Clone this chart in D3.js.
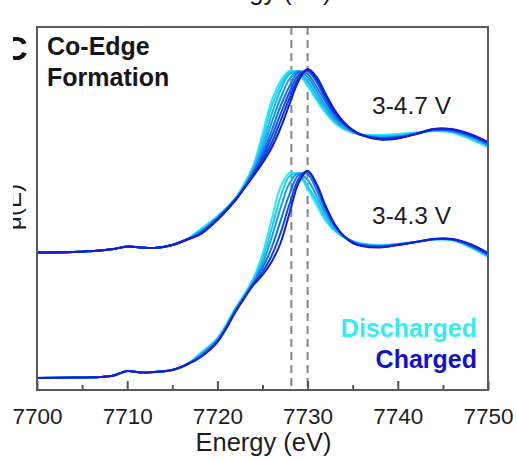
<!DOCTYPE html>
<html>
<head>
<meta charset="utf-8">
<script src="https://cdn.jsdelivr.net/npm/d3@7"></script>
<style>
  html, body { margin: 0; padding: 0; background: #fff; }
  svg { display: block; font-family: "Liberation Sans", Arial, sans-serif; }
</style>
</head>
<body>
<svg id="chart" width="516" height="460"></svg>
<script>
// ---------- data ----------
const energyPre = [7700, 7704, 7707, 7708.5, 7710, 7711.5, 7713, 7715, 7716.5];
const energyEdge = [7718, 7720, 7722, 7723, 7724, 7725, 7726, 7727, 7728, 7729, 7730, 7731,
                    7732, 7733, 7734, 7735, 7736, 7738, 7740, 7742, 7744, 7746, 7748, 7750];

// stacked μ(E) (offset, a.u.) — 3-4.7 V cycling (top)
const topPre = [1.375, 1.38, 1.395, 1.41, 1.435, 1.425, 1.42, 1.45, 1.50];
const top0 = [1.60, 1.74, 1.92, 2.07, 2.25, 2.56, 2.89, 3.09, 3.19, 3.16, 3.04, 2.90, 2.77, 2.67, 2.61, 2.575, 2.555, 2.55, 2.56, 2.575, 2.59, 2.575, 2.51, 2.43];
const top1 = [1.59, 1.73, 1.915, 2.045, 2.23, 2.51, 2.83, 3.05, 3.18, 3.17, 3.06, 2.92, 2.785, 2.68, 2.615, 2.575, 2.55, 2.54, 2.55, 2.57, 2.59, 2.58, 2.52, 2.44];
const top2 = [1.58, 1.725, 1.91, 2.04, 2.21, 2.45, 2.75, 3.00, 3.16, 3.18, 3.09, 2.95, 2.81, 2.695, 2.625, 2.58, 2.55, 2.535, 2.54, 2.565, 2.595, 2.585, 2.53, 2.45];
const top3 = [1.575, 1.72, 1.91, 2.035, 2.20, 2.40, 2.67, 2.92, 3.11, 3.19, 3.13, 2.99, 2.84, 2.715, 2.64, 2.585, 2.55, 2.525, 2.535, 2.565, 2.60, 2.59, 2.535, 2.455];
const top4 = [1.57, 1.715, 1.905, 2.03, 2.18, 2.36, 2.59, 2.84, 3.04, 3.18, 3.16, 3.03, 2.88, 2.74, 2.655, 2.59, 2.55, 2.52, 2.53, 2.56, 2.60, 2.595, 2.54, 2.46];
const top5 = [1.56, 1.71, 1.90, 2.025, 2.165, 2.33, 2.53, 2.76, 2.98, 3.15, 3.19, 3.08, 2.91, 2.76, 2.665, 2.595, 2.55, 2.515, 2.525, 2.56, 2.605, 2.60, 2.55, 2.47];
const top6 = [1.555, 1.705, 1.90, 2.02, 2.15, 2.30, 2.47, 2.69, 2.92, 3.12, 3.205, 3.11, 2.94, 2.78, 2.67, 2.60, 2.55, 2.51, 2.52, 2.56, 2.61, 2.605, 2.555, 2.475];
const top7 = [1.55, 1.70, 1.90, 2.02, 2.14, 2.27, 2.42, 2.62, 2.86, 3.09, 3.21, 3.13, 2.96, 2.80, 2.68, 2.60, 2.55, 2.505, 2.515, 2.56, 2.61, 2.61, 2.56, 2.48];

// 3-4.3 V cycling (bottom)
const bottomPre = [0.12, 0.125, 0.13, 0.145, 0.19, 0.175, 0.18, 0.20, 0.25];
const bottom0 = [0.36, 0.52, 0.82, 0.96, 1.12, 1.36, 1.70, 2.03, 2.17, 2.15, 2.01, 1.85, 1.69, 1.59, 1.53, 1.49, 1.465, 1.45, 1.46, 1.48, 1.505, 1.50, 1.43, 1.33];
const bottom1 = [0.35, 0.51, 0.81, 0.95, 1.10, 1.31, 1.61, 1.93, 2.14, 2.16, 2.04, 1.89, 1.72, 1.60, 1.53, 1.485, 1.46, 1.445, 1.46, 1.48, 1.505, 1.50, 1.435, 1.34];
const bottom2 = [0.34, 0.50, 0.80, 0.94, 1.085, 1.26, 1.52, 1.82, 2.07, 2.17, 2.10, 1.94, 1.76, 1.62, 1.54, 1.485, 1.455, 1.44, 1.455, 1.48, 1.505, 1.505, 1.44, 1.345];
const bottom3 = [0.33, 0.49, 0.79, 0.93, 1.07, 1.22, 1.42, 1.69, 1.96, 2.15, 2.16, 2.00, 1.80, 1.64, 1.54, 1.48, 1.45, 1.435, 1.455, 1.48, 1.51, 1.505, 1.445, 1.355];
const bottom4 = [0.325, 0.485, 0.785, 0.925, 1.06, 1.18, 1.34, 1.57, 1.86, 2.11, 2.19, 2.05, 1.83, 1.65, 1.54, 1.475, 1.445, 1.43, 1.45, 1.48, 1.51, 1.51, 1.455, 1.36];
const bottom5 = [0.32, 0.48, 0.78, 0.92, 1.05, 1.15, 1.28, 1.47, 1.77, 2.07, 2.19, 2.06, 1.84, 1.66, 1.54, 1.47, 1.44, 1.425, 1.45, 1.48, 1.51, 1.51, 1.46, 1.37];

const refLines = [7728.2, 7730];
const majorTicks = [7700, 7710, 7720, 7730, 7740, 7750];
const minorTicks = [7705, 7715, 7725, 7735, 7745];
const groupLabels = ["3-4.7 V", "3-4.3 V"];
const legendLabels = ["Discharged", "Charged"];

// ---------- layout / style ----------
const topColors = ["#24eef6", "#20d4f6", "#1cb6f4", "#1896f0", "#1474ec", "#1052e4", "#0d36dc", "#1a1ad4"];
const bottomColors = ["#24eef6", "#1ec8f5", "#189ef1", "#1272ea", "#0d48e0", "#1a1ad4"];
const L = 37, R = 488, T = 27, B = 390;
const font = '"Liberation Sans", Arial, sans-serif';

const svg = d3.select("#chart");
const x = d3.scaleLinear().domain([7700, 7750]).range([L, R]);
const y = d3.scaleLinear().domain([0, 3.63]).range([B, T]);

const defs = svg.append("defs");
defs.append("clipPath").attr("id", "plotClip").append("rect")
  .attr("x", L).attr("y", T).attr("width", R - L).attr("height", B - T);
defs.append("clipPath").attr("id", "pageClip").append("rect")
  .attr("x", 13).attr("y", 0).attr("width", 503).attr("height", 460);

const energy = energyPre.concat(energyEdge);
const topSeries = [top0, top1, top2, top3, top4, top5, top6, top7].map(s => topPre.concat(s));
const bottomSeries = [bottom0, bottom1, bottom2, bottom3, bottom4, bottom5].map(s => bottomPre.concat(s));

const line = d3.line()
  .x((d, i) => x(energy[i]))
  .y(d => y(d))
  .curve(d3.curveCatmullRom.alpha(0.5));

const plot = svg.append("g").attr("clip-path", "url(#plotClip)");

// dashed reference lines
plot.selectAll("line.ref").data(refLines).enter().append("line")
  .attr("x1", d => x(d)).attr("x2", d => x(d))
  .attr("y1", T).attr("y2", B)
  .attr("stroke", "#858585").attr("stroke-width", 2)
  .attr("stroke-dasharray", "8,5");

plot.selectAll("path.bot").data(bottomSeries).enter().append("path")
  .attr("d", line).attr("fill", "none")
  .attr("stroke", (d, i) => bottomColors[i]).attr("stroke-width", 2);

plot.selectAll("path.top").data(topSeries).enter().append("path")
  .attr("d", line).attr("fill", "none")
  .attr("stroke", (d, i) => topColors[i]).attr("stroke-width", 2);

// axis ticks (inward)
const axMajor = svg.append("g").attr("transform", `translate(0,${B})`)
  .call(d3.axisBottom(x).tickValues(majorTicks).tickSize(-9).tickPadding(18).tickFormat(d3.format("d")));
const axMinor = svg.append("g").attr("transform", `translate(0,${B})`)
  .call(d3.axisBottom(x).tickValues(minorTicks).tickSize(-5).tickFormat(""));
[axMajor, axMinor].forEach(g => {
  g.select(".domain").remove();
  g.selectAll(".tick line").attr("stroke", "#555").attr("stroke-width", 2);
});
axMajor.selectAll(".tick text")
  .attr("font-family", font).attr("font-size", 22.5).attr("fill", "#1e1e1e");

// frame
svg.append("rect").attr("x", L).attr("y", T).attr("width", R - L).attr("height", B - T)
  .attr("fill", "none").attr("stroke", "#5a5a5a").attr("stroke-width", 2);

// axis title
svg.append("text").attr("x", 263.5).attr("y", 451).attr("text-anchor", "middle")
  .attr("font-family", font).attr("font-size", 25.5).attr("fill", "#1e1e1e")
  .text("Energy (eV)");

// cut-off title of the panel above (only its lower edge is visible)
svg.append("text").attr("x", 263.5).attr("y", 0).attr("text-anchor", "middle")
  .attr("font-family", font).attr("font-size", 25.5).attr("fill", "#1e1e1e")
  .text("Energy (eV)");

// clipped left-side elements
const left = svg.append("g").attr("clip-path", "url(#pageClip)");
left.append("text").attr("x", 3).attr("y", 60)
  .attr("font-family", font).attr("font-size", 34).attr("font-weight", "bold").attr("fill", "#111")
  .text("C");
left.append("text").attr("transform", "translate(21,207) rotate(-90)").attr("text-anchor", "middle")
  .attr("font-family", font).attr("font-size", 24).attr("fill", "#1e1e1e")
  .text("μ(E)");

// in-plot labels
svg.append("text").attr("x", 47).attr("y", 55)
  .attr("font-family", font).attr("font-size", 25).attr("font-weight", "bold").attr("fill", "#161616")
  .text("Co-Edge");
svg.append("text").attr("x", 47).attr("y", 86)
  .attr("font-family", font).attr("font-size", 25).attr("font-weight", "bold").attr("fill", "#161616")
  .text("Formation");

svg.selectAll("text.grp").data(groupLabels).enter().append("text")
  .attr("x", 372).attr("y", (d, i) => [114, 224][i])
  .attr("font-family", font).attr("font-size", 24.5).attr("fill", "#1e1e1e")
  .text(d => d);

svg.selectAll("text.leg").data(legendLabels).enter().append("text")
  .attr("x", 477).attr("y", (d, i) => [337, 368][i]).attr("text-anchor", "end")
  .attr("font-family", font).attr("font-size", 25).attr("font-weight", "bold")
  .attr("fill", (d, i) => ["#34ecf2", "#1212cc"][i])
  .text(d => d);
</script>
</body>
</html>
